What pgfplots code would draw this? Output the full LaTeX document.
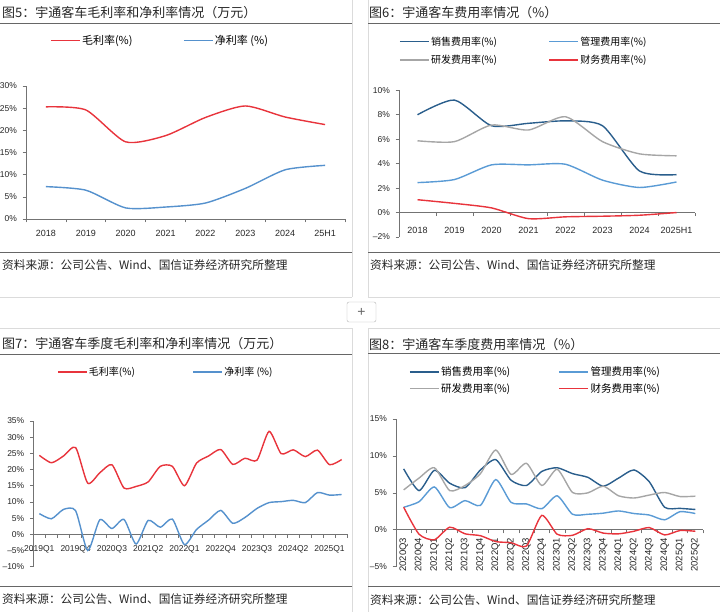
\documentclass[border=0pt]{standalone}
\usepackage{pgfplots}
\pgfplotsset{compat=1.18}
\usepackage{fontspec}
\setmainfont{Liberation Sans}
\newfontfamily\cjk{Noto Sans CJK SC}
\definecolor{cred}{RGB}{232,52,60}
\definecolor{cnet}{RGB}{85,145,205}
\definecolor{csale}{RGB}{42,94,140}
\definecolor{cadmin}{RGB}{90,155,213}
\definecolor{cgray}{RGB}{166,166,166}
\pgfplotsset{
  base/.style={
    scale only axis,
    anchor=south west,
    axis y line*=left,
    axis line style={black!55, line width=0.7pt},
    tick style={black!55, line width=0.6pt},
    major tick length=3.5pt,
    tick align=outside,
    hide obscured x ticks=false,
    hide obscured y ticks=false,
    clip=false,
    every axis plot/.append style={line width=1.4pt, smooth, tension=0.4, no markers},
    legend style={draw=none, fill=none, inner sep=0pt, anchor=west, legend cell align=left,
      nodes={inner sep=1.5pt}},
    legend image code/.code={\draw[##1] (0pt,0pt) -- (29pt,0pt);},
    /pgf/number format/assume math mode=true,
    yticklabel style={font=\fontsize{8.5}{10}\selectfont, text=black!85, xshift=-2pt},
    xticklabel style={text=black!85},
  }
}
\begin{document}
\begin{tikzpicture}
\path[use as bounding box] (0,0) rectangle (720pt,-612pt);
% frames
\begin{scope}[black!14, line width=0.5pt]
\draw (352pt,0pt) -- (352pt,-297pt);
\draw (368pt,0pt) -- (368pt,-297pt);
\draw (0pt,-297pt) -- (352pt,-297pt);
\draw (368pt,-297pt) -- (720pt,-297pt);
\draw (352pt,-328pt) -- (352pt,-612pt);
\draw (368pt,-328pt) -- (368pt,-612pt);
\draw (0pt,-328pt) -- (352pt,-328pt);
\draw (368pt,-328pt) -- (720pt,-328pt);
\end{scope}
\draw[black!30, rounded corners=2pt] (347pt,-302pt) rectangle (376pt,-322pt);
\node[text=black!60, font=\fontsize{14}{14}\selectfont, inner sep=0pt] at (361.5pt,-312pt) {+};
% title and source lines
\begin{scope}[black!60, line width=0.8pt]
\draw (0pt,-23.3pt) -- (352pt,-23.3pt);
\draw (368pt,-23.3pt) -- (720pt,-23.3pt);
\draw (0pt,-252pt) -- (352pt,-252pt);
\draw (368pt,-252pt) -- (720pt,-252pt);
\draw (0pt,-354pt) -- (352pt,-354pt);
\draw (368pt,-353.5pt) -- (720pt,-353.5pt);
\draw (0pt,-586.5pt) -- (352pt,-586.5pt);
\draw (368pt,-586pt) -- (720pt,-586pt);
\end{scope}
\begin{scope}[every node/.style={anchor=west, inner sep=0pt, text=black!85, font=\cjk\fontsize{13}{14}\selectfont}]
\node at (2pt,-13pt) {图5：宇通客车毛利率和净利率情况（万元）};
\node at (369pt,-13pt) {图6：宇通客车费用率情况（\%）};
\node at (2pt,-344pt) {图7：宇通客车季度毛利率和净利率情况（万元）};
\node at (369pt,-345pt) {图8：宇通客车季度费用率情况（\%）};
\end{scope}
\begin{scope}[every node/.style={anchor=west, inner sep=0pt, text=black!85, font=\cjk\fontsize{11.7}{14}\selectfont}]
\node at (2pt,-265pt) {资料来源：公司公告、Wind、国信证券经济研究所整理};
\node at (370pt,-265pt) {资料来源：公司公告、Wind、国信证券经济研究所整理};
\node at (2pt,-599.5pt) {资料来源：公司公告、Wind、国信证券经济研究所整理};
\node at (370pt,-600pt) {资料来源：公司公告、Wind、国信证券经济研究所整理};
\end{scope}

% ---------------- Panel 1
\begin{axis}[base, at={(26pt,-219pt)}, width=319pt, height=133pt,
  axis x line*=bottom,
  xmin=0.5, xmax=8.5, ymin=0, ymax=30,
  xtick={0.5,1.5,2.5,3.5,4.5,5.5,6.5,7.5,8.5},
  xticklabels={2018,2019,2020,2021,2022,2023,2024,25H1,{}},
  xticklabel style={xshift=19.94pt, yshift=-4pt, font=\fontsize{9}{10}\selectfont},
  ytick={0,5,10,15,20,25,30},
  yticklabels={0\%,5\%,10\%,15\%,20\%,25\%,30\%},
  legend columns=2,
  legend style={at={(0.075,1.34)}, font=\cjk\fontsize{11}{12}\selectfont,
    /tikz/every even column/.append style={column sep=49pt}},
]
\addplot[cred] coordinates {(1,25.3) (2,24.6) (3,17.4) (4,18.8) (5,22.9) (6,25.5) (7,23.0) (8,21.3)};
\addlegendentry{毛利率(\%)}
\addplot[cnet] coordinates {(1,7.3) (2,6.5) (3,2.5) (4,2.7) (5,3.6) (6,6.9) (7,11.1) (8,12.1)};
\addlegendentry{净利率 (\%)}
\end{axis}

% ---------------- Panel 2
\begin{axis}[base, at={(399pt,-237pt)}, width=296pt, height=146.7pt,
  axis x line*=middle,
  xmin=0.5, xmax=8.5, ymin=-2, ymax=10,
  xtick={0.5,1.5,2.5,3.5,4.5,5.5,6.5,7.5,8.5},
  xticklabels={2018,2019,2020,2021,2022,2023,2024,2025H1,{}},
  xticklabel style={xshift=18.5pt, yshift=-8pt, font=\fontsize{9}{10}\selectfont},
  ytick={-2,0,2,4,6,8,10},
  yticklabels={–2\%,0\%,2\%,4\%,6\%,8\%,10\%},
  legend columns=2,
  legend style={at={(0.0,1.269)}, font=\cjk\fontsize{10}{12}\selectfont, row sep=5.5pt,
    /tikz/every even column/.append style={column sep=50pt}},
]
\addplot[csale] coordinates {(1,8.0) (2,9.2) (3,7.1) (4,7.3) (5,7.5) (6,7.1) (7,3.4) (8,3.1)};
\addlegendentry{销售费用率(\%)}
\addplot[cadmin] coordinates {(1,2.45) (2,2.7) (3,3.9) (4,3.9) (5,3.95) (6,2.65) (7,2.05) (8,2.5)};
\addlegendentry{管理费用率(\%)}
\addplot[cgray] coordinates {(1,5.87) (2,5.8) (3,7.16) (4,6.75) (5,7.84) (6,5.8) (7,4.8) (8,4.64)};
\addlegendentry{研发费用率(\%)}
\addplot[cred] coordinates {(1,1.05) (2,0.75) (3,0.38) (4,-0.5) (5,-0.35) (6,-0.3) (7,-0.22) (8,0.0)};
\addlegendentry{财务费用率(\%)}
\end{axis}

% ---------------- Panel 3
\begin{axis}[base, at={(33.3pt,-566.7pt)}, width=314.4pt, height=145.7pt,
  axis x line*=middle,
  xmin=0.5, xmax=26.5, ymin=-10, ymax=35,
  xtick={0.5,1.5,...,26.5},
  xticklabels={2019Q1,,,2019Q4,,,2020Q3,,,2021Q2,,,2022Q1,,,2022Q4,,,2023Q3,,,2024Q2,,,2025Q1,,,},
  xticklabel style={xshift=6.05pt, yshift=-4pt, font=\fontsize{8.5}{10}\selectfont},
  ytick={-10,-5,0,5,10,15,20,25,30,35},
  yticklabels={–10\%,–5\%,0\%,5\%,10\%,15\%,20\%,25\%,30\%,35\%},
  legend columns=2,
  legend style={at={(0.075,1.336)}, font=\cjk\fontsize{10}{12}\selectfont,
    /tikz/every even column/.append style={column sep=56pt}},
]
\addplot[cred] coordinates {(1,24.4) (2,22.1) (3,24.2) (4,26.8) (5,15.8) (6,19.0) (7,21.5) (8,14.3) (9,14.8) (10,16.2) (11,21.0) (12,21.0) (13,15.0) (14,22.0) (15,24.2) (16,26.2) (17,21.6) (18,23.5) (19,22.9) (20,31.8) (21,24.9) (22,26.1) (23,24.0) (24,26.0) (25,21.5) (26,23.1)};
\addlegendentry{毛利率(\%)}
\addplot[cnet] coordinates {(1,6.4) (2,4.8) (3,7.7) (4,7.3) (5,-5.0) (6,4.5) (7,1.8) (8,4.6) (9,-3.0) (10,4.3) (11,2.2) (12,4.7) (13,-3.2) (14,1.5) (15,4.4) (16,7.4) (17,3.4) (18,5.2) (19,8.0) (20,9.8) (21,10.1) (22,10.5) (23,9.8) (24,12.9) (25,12.1) (26,12.3)};
\addlegendentry{净利率 (\%)}
\end{axis}

% ---------------- Panel 4
\begin{axis}[base, at={(396pt,-566.7pt)}, width=307pt, height=147.7pt,
  axis x line*=middle,
  xmin=0.5, xmax=20.5, ymin=-5, ymax=15,
  xtick={0.5,1.5,...,20.5},
  xticklabels={2020Q3,2020Q4,2021Q1,2021Q2,2021Q3,2021Q4,2022Q1,2022Q2,2022Q3,2022Q4,2023Q1,2023Q2,2023Q3,2023Q4,2024Q1,2024Q2,2024Q3,2024Q4,2025Q1,2025Q2,{}},
  xticklabel style={xshift=7.675pt, yshift=-1pt, rotate=90, anchor=east, font=\fontsize{9.5}{10}\selectfont},
  ytick={-5,0,5,10,15},
  yticklabels={–5\%,0\%,5\%,10\%,15\%},
  legend columns=2,
  legend style={at={(0.042,1.262)}, font=\cjk\fontsize{10.5}{12}\selectfont, row sep=3pt,
    /tikz/every even column/.append style={column sep=47pt}},
]
\addplot[csale] coordinates {(1,8.25) (2,5.3) (3,8.05) (4,6.3) (5,5.7) (6,8.1) (7,9.5) (8,6.7) (9,6.0) (10,7.9) (11,8.4) (12,7.6) (13,7.1) (14,5.9) (15,7.0) (16,8.1) (17,6.5) (18,3.05) (19,2.9) (20,2.75)};
\addlegendentry{销售费用率(\%)}
\addplot[cadmin] coordinates {(1,3.05) (2,3.8) (3,5.8) (4,3.0) (5,3.95) (6,3.3) (7,6.8) (8,3.7) (9,3.5) (10,2.85) (11,4.6) (12,2.1) (13,2.1) (14,2.25) (15,2.55) (16,2.2) (17,2.0) (18,1.35) (19,2.45) (20,2.2)};
\addlegendentry{管理费用率(\%)}
\addplot[cgray] coordinates {(1,5.4) (2,7.0) (3,8.4) (4,5.3) (5,6.0) (6,7.6) (7,10.8) (8,7.5) (9,9.0) (10,6.0) (11,8.2) (12,5.05) (13,5.0) (14,5.9) (15,4.6) (16,4.3) (17,4.7) (18,5.05) (19,4.5) (20,4.55)};
\addlegendentry{研发费用率(\%)}
\addplot[cred] coordinates {(1,3.05) (2,-0.6) (3,-1.35) (4,0.35) (5,-0.55) (6,-0.8) (7,-1.6) (8,-1.75) (9,-2.2) (10,1.95) (11,-0.6) (12,-0.75) (13,0.15) (14,-0.45) (15,-0.55) (16,-0.2) (17,0.3) (18,-0.7) (19,-0.1) (20,-0.2)};
\addlegendentry{财务费用率(\%)}
\end{axis}
\end{tikzpicture}
\end{document}
